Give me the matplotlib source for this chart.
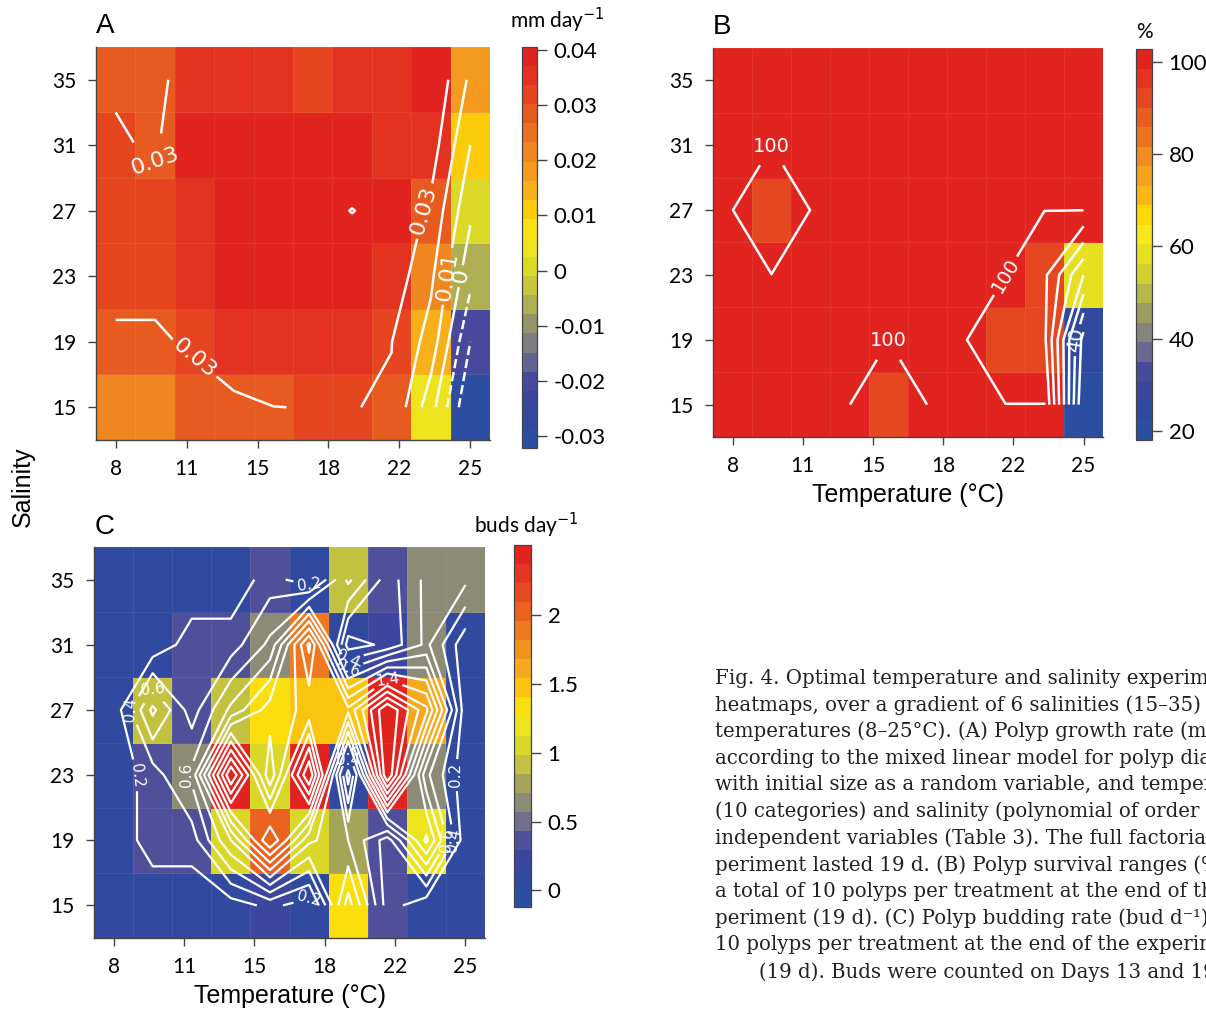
import numpy as np
import matplotlib
matplotlib.use('Agg')
import matplotlib.pyplot as plt
from matplotlib import colors as mcolors

W, H = 1206, 1010

# temperature categories (10 columns) and their axis labels
n_temp = 10
temp_labels = ['8', '11', '15', '18', '22', '25']
salinity = [15, 19, 23, 27, 31, 35]

# (A) growth rate, mm day-1, rows = salinity 15 -> 35
growth = [
    [0.021, 0.020, 0.027, 0.028, 0.0299, 0.0302, 0.0303, 0.029, 0.004, -0.030],
    [0.029, 0.029, 0.031, 0.036, 0.037, 0.037, 0.037, 0.0302, 0.016, -0.020],
    [0.032, 0.032, 0.037, 0.038, 0.038, 0.038, 0.038, 0.036, 0.022, -0.007],
    [0.033, 0.033, 0.037, 0.039, 0.039, 0.039, 0.04008, 0.039, 0.028, 0.002],
    [0.031, 0.029, 0.038, 0.039, 0.039, 0.039, 0.038, 0.036, 0.035, 0.010],
    [0.029, 0.028, 0.034, 0.034, 0.034, 0.033, 0.037, 0.034, 0.0395, 0.018],
]

# (B) survival, %
survival = [
    [100, 100, 100, 100, 92, 100, 100, 100, 100, 20],
    [100, 100, 100, 100, 100, 100, 100, 92, 92, 26],
    [100, 100, 100, 100, 100, 100, 100, 100, 92, 60],
    [100, 92, 100, 100, 100, 100, 100, 100, 100, 100],
    [100, 100, 100, 100, 100, 100, 100, 100, 100, 100],
    [100, 100, 100, 100, 100, 100, 100, 100, 100, 100],
]

# (C) budding rate, buds day-1
budding = [
    [0.05, 0.05, 0.05, 0.10, 0.25, 0.10, 1.30, 0.30, 0.05, 0.05],
    [0.05, 0.30, 0.30, 1.00, 2.00, 1.05, 0.80, 0.30, 1.25, 0.05],
    [0.05, 0.30, 0.65, 2.40, 1.05, 2.40, 0.10, 2.40, 0.65, 0.05],
    [0.05, 0.85, 0.30, 0.85, 1.30, 1.45, 1.45, 2.40, 1.65, 0.05],
    [0.05, 0.05, 0.30, 0.30, 0.65, 1.85, 0.10, 0.25, 0.65, 0.05],
    [0.05, 0.05, 0.05, 0.05, 0.30, 0.05, 0.85, 0.30, 0.65, 0.65],
]

palette = ['#2c4ea0', '#30499e', '#3a469e', '#4a4a9c', '#6a6a90', '#85857e',
           '#9c9c62', '#b8b84a', '#d2d030', '#e6e020', '#f6e81c', '#fed800',
           '#f8b818', '#f5a21e', '#f18c20', '#ec7420', '#e85e20', '#e54820',
           '#e33420', '#e22420']
cmap = mcolors.LinearSegmentedColormap.from_list('heat', palette)

caption = [
    'Fig. 4. Optimal temperature and salinity experiments:',
    'heatmaps, over a gradient of 6 salinities (15\u201335) and',
    'temperatures (8\u201325\u00b0C). (A) Polyp growth rate (mm',
    'according to the mixed linear model for polyp diameter',
    'with initial size as a random variable, and temperature',
    '(10 categories) and salinity (polynomial of order 2) as',
    'independent variables (Table 3). The full factorial ex-',
    'periment lasted 19 d. (B) Polyp survival ranges (%) for',
    'a total of 10 polyps per treatment at the end of the ex-',
    'periment (19 d). (C) Polyp budding rate (bud d\u207b\u00b9) for',
    '10 polyps per treatment at the end of the experiment',
    '(19 d). Buds were counted on Days 13 and 19.',
]

tick_font = 'Lato'
label_font = 'Liberation Sans'


def box(l, t, r, b):
  return [l / W, 1 - b / H, (r - l) / W, (b - t) / H]


fig = plt.figure(figsize=(W / 100, H / 100), dpi=100)


def panel(rect, crect, data, vmin, vmax, nbands, levels, labelled, fmt, lfs, lw,
          cticks, ctlabels, ctitle, tpos, letter, xlabel=None):
  ax = fig.add_axes(box(*rect))
  z = np.array(data, dtype=float)
  cm = cmap.resampled(nbands)
  mesh = ax.pcolormesh(np.arange(n_temp + 1) - 0.5, np.arange(len(salinity) + 1) - 0.5, z,
                       cmap=cm, vmin=vmin, vmax=vmax,
                       edgecolors=(1, 1, 1, 0.07), linewidth=0.6)
  cs = ax.contour(np.arange(n_temp), np.arange(len(salinity)), z, levels=levels,
                  colors='white', linewidths=lw)
  ax.clabel(cs, labelled, inline=True, fmt=fmt, fontsize=lfs, colors='white',
            inline_spacing=4)
  ax.set_xlim(-0.5, n_temp - 0.5)
  ax.set_ylim(-0.5, len(salinity) - 0.5)
  ax.set_xticks(np.linspace(0, n_temp - 1, len(temp_labels)))
  ax.set_xticklabels(temp_labels)
  ax.set_yticks(np.arange(len(salinity)))
  ax.set_yticklabels([str(s) for s in salinity])
  for s in ['top', 'right']:
    ax.spines[s].set_visible(False)
  for s in ['left', 'bottom']:
    ax.spines[s].set_color('#444444')
    ax.spines[s].set_linewidth(1.0)
  ax.tick_params(direction='out', length=6, width=1, color='#444444',
                 labelsize=15, pad=8)
  for t in ax.get_xticklabels() + ax.get_yticklabels():
    t.set_fontfamily(tick_font)
  if xlabel:
    ax.set_xlabel(xlabel, fontsize=18, family=label_font, labelpad=5)
  fig.text(tpos[0] / W, 1 - tpos[1] / H, letter, fontsize=20, family=label_font,
           ha='left', va='center')

  cax = fig.add_axes(box(*crect))
  cb = fig.colorbar(mesh, cax=cax, ticks=cticks)
  cb.ax.set_yticklabels(ctlabels)
  cb.outline.set_edgecolor('#444444')
  cb.outline.set_linewidth(0.9)
  cb.ax.tick_params(length=7, width=1, color='#444444', labelsize=16, pad=5)
  for t in cb.ax.get_yticklabels():
    t.set_fontfamily(tick_font)
  fig.text(ctitle[1] / W, 1 - ctitle[2] / H, ctitle[0], fontsize=15,
           family=tick_font, ha='center', va='center')
  return ax


panel((96, 47, 490, 440), (522, 47, 537, 448), growth, -0.0321, 0.0405, 21,
      [-0.02, -0.01, 0, 0.01, 0.02, 0.03, 0.04], [0, 0.01, 0.03],
      lambda v: '0' if abs(v) < 1e-9 else '%g' % v, 16, 1.8,
      [-0.03, -0.02, -0.01, 0, 0.01, 0.02, 0.03, 0.04],
      ['-0.03', '-0.02', '-0.01', '0', '0.01', '0.02', '0.03', '0.04'],
      ('mm day$^{-1}$', 557, 20), (96, 26), 'A')

panel((713, 48, 1103, 437), (1136, 49, 1152, 440), survival, 18.05, 102.8, 20,
      [30, 40, 50, 60, 70, 80, 90, 99.9], [40, 99.9],
      lambda v: '100' if v > 99 else '%d' % v, 14, 1.8,
      [20, 40, 60, 80, 100], ['20', '40', '60', '80', '100'],
      ('%', 1144, 32), (713, 27), 'B', 'Temperature (\u00b0C)')

panel((94, 547, 485, 938), (514, 545, 531, 907), budding, -0.12, 2.51, 19,
      [0.2, 0.4, 0.6, 0.8, 1.0, 1.2, 1.4, 1.6, 1.8, 2.0, 2.2],
      [0.2, 0.4, 0.6, 1.4],
      lambda v: '%.1f' % v, 11, 1.6,
      [0, 0.5, 1, 1.5, 2], ['0', '0.5', '1', '1.5', '2'],
      ('buds day$^{-1}$', 526, 525), (95, 527), 'C', 'Temperature (\u00b0C)')

fig.text(23 / W, 1 - 487 / H, 'Salinity', rotation=90, fontsize=18,
         family=label_font, ha='center', va='center')

for i, line in enumerate(caption):
  x = 759 if i == len(caption) - 1 else 715
  fig.text(x / W, 1 - (678 + i * 26.7) / H, line, fontsize=14.2,
           family='DejaVu Serif', ha='left', va='center', color='#222222')

plt.savefig('out.png', dpi=100)
plt.close()
